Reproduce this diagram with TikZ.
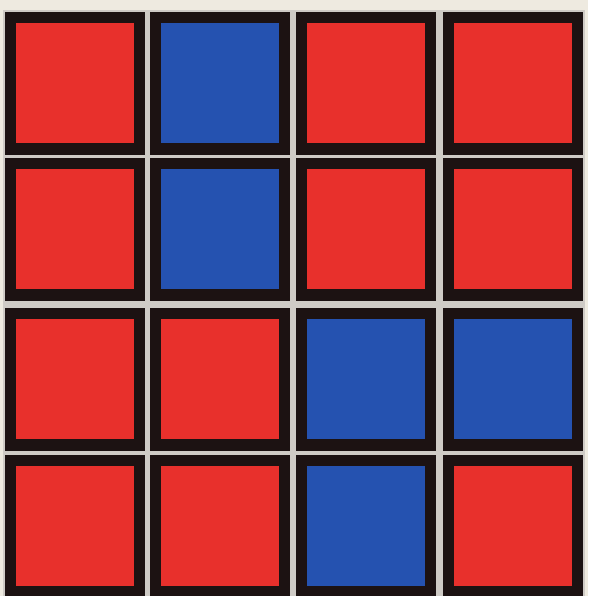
\documentclass[tikz,border=0pt]{standalone}
\begin{document}
\begin{tikzpicture}[x=1pt,y=-1pt,
  outerbox/.style={fill=darkb,draw=none},
  redc/.style={fill=redf,draw=none},
  bluec/.style={fill=bluef,draw=none}]
\definecolor{bg}{HTML}{EEEAE0}
\definecolor{gapc}{HTML}{CFCBC6}
\definecolor{darkb}{HTML}{1C1212}
\definecolor{redf}{HTML}{E8302C}
\definecolor{bluef}{HTML}{2552B0}
\useasboundingbox (0,0) rectangle (588,596);
\fill[bg] (0,0) rectangle (588,596);
\fill[gapc] (3,10) rectangle (585,596);
\def\colsx{{5,150,296,443}}
\def\rowsy{{12,158,308,455}}
\foreach \r/\c/\k in {0/0/redc,0/1/bluec,0/2/redc,0/3/redc,
                      1/0/redc,1/1/bluec,1/2/redc,1/3/redc,
                      2/0/redc,2/1/redc,2/2/bluec,2/3/bluec,
                      3/0/redc,3/1/redc,3/2/bluec,3/3/redc}{
  \pgfmathsetmacro{\xx}{\colsx[\c]}
  \pgfmathsetmacro{\yy}{\rowsy[\r]}
  \fill[darkb] (\xx,\yy) rectangle ++(140,143);
  \fill[\k] (\xx+11,\yy+11) rectangle ++(118,120);
}
\end{tikzpicture}
\end{document}
